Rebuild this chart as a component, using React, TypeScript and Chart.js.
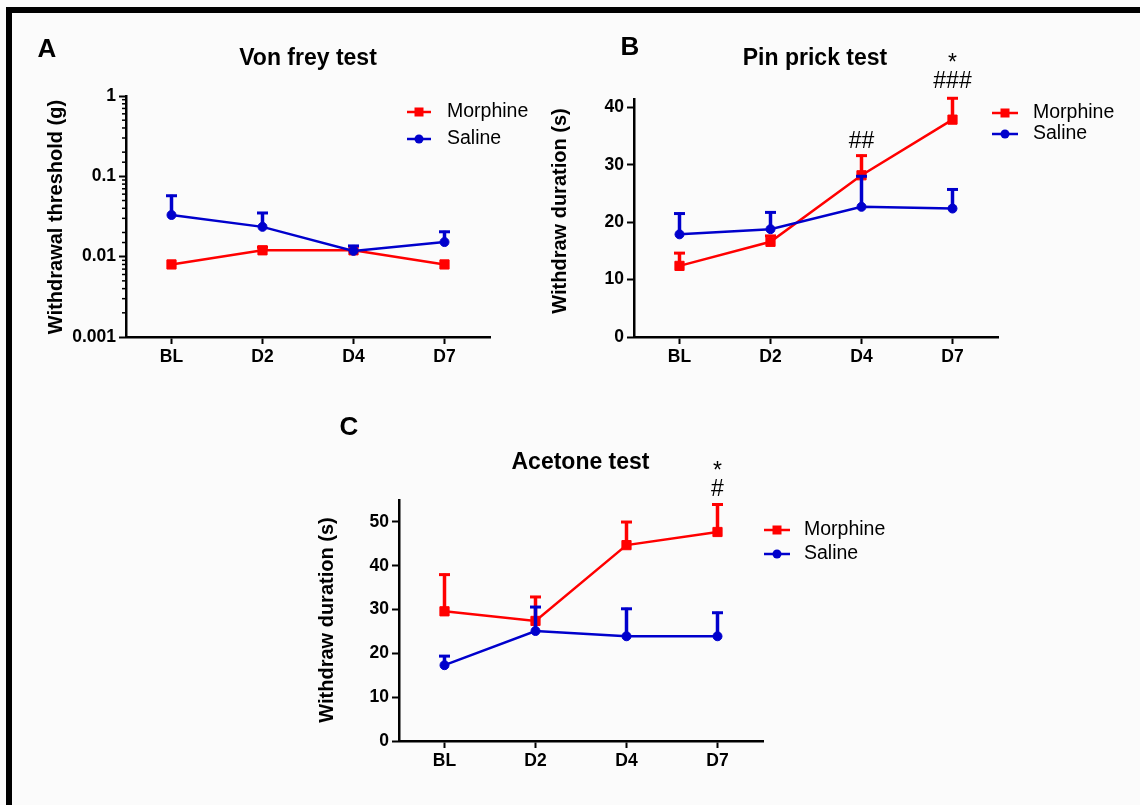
import React, { useEffect, useRef } from 'react';
import { Chart, registerables } from 'chart.js';

Chart.register(...registerables);

// ---------------- DATA ----------------
const categories = ['BL', 'D2', 'D4', 'D7'];
const seriesNames = ['Morphine', 'Saline'];

// A: Von frey test (log scale)
const vonFreyMorphine = [0.008, 0.012, 0.012, 0.008];
const vonFreyMorphineSem = [0, 0.0015, 0, 0];
const vonFreySaline = [0.033, 0.0235, 0.0118, 0.0152];
const vonFreySalineSem = [0.026, 0.0125, 0.0022, 0.0058];
const vonFreyTicks = [0.001, 0.01, 0.1, 1];
const vonFreyTickLabels = ['0.001', '0.01', '0.1', '1'];

// B: Pin prick test
const pinPrickMorphine = [12.4, 16.6, 28.2, 37.9];
const pinPrickMorphineSem = [2.4, 1.2, 3.6, 3.9];
const pinPrickSaline = [17.9, 18.8, 22.7, 22.4];
const pinPrickSalineSem = [3.8, 3.1, 5.5, 3.5];
const pinPrickTicks = [0, 10, 20, 30, 40];
const pinPrickTickLabels = ['0', '10', '20', '30', '40'];

// C: Acetone test
const acetoneMorphine = [29.6, 27.4, 44.7, 47.7];
const acetoneMorphineSem = [8.6, 5.7, 5.5, 6.5];
const acetoneSaline = [17.3, 25.1, 23.9, 23.9];
const acetoneSalineSem = [2.3, 5.7, 6.5, 5.6];
const acetoneTicks = [0, 10, 20, 30, 40, 50];
const acetoneTickLabels = ['0', '10', '20', '30', '40', '50'];

// ---------------- STYLE ----------------
const FONT = '"Liberation Sans", Arial, Helvetica, sans-serif';
const RED = '#FF0000';
const BLUE = '#0000CC';

type Annotation = { text: string; cat: number; y: number };
type Panel = {
  key: string;
  canvas: { left: number; top: number; width: number; height: number };
  area: { left: number; right: number; top: number; bottom: number };
  yType: 'logarithmic' | 'linear';
  yMin: number;
  yMax: number;
  yTicks: number[];
  yTickLabels: string[];
  title: string;
  titlePos: [number, number];
  letter: string;
  letterPos: [number, number];
  yTitle: string;
  yTitlePos: [number, number];
  legend: { x1: number; x2: number; textX: number; ys: number[] };
  annotations: Annotation[];
  morphine: number[];
  morphineSem: number[];
  saline: number[];
  salineSem: number[];
};

const panels: Panel[] = [
  {
    key: 'A',
    canvas: { left: 0, top: 0, width: 540, height: 400 },
    area: { left: 126, right: 490, top: 96, bottom: 337 },
    yType: 'logarithmic',
    yMin: 0.001,
    yMax: 1,
    yTicks: vonFreyTicks,
    yTickLabels: vonFreyTickLabels,
    title: 'Von frey test',
    titlePos: [308, 59],
    letter: 'A',
    letterPos: [47, 50],
    yTitle: 'Withdrawal threshold (g)',
    yTitlePos: [56, 217],
    legend: { x1: 407, x2: 431, textX: 447, ys: [112, 139] },
    annotations: [],
    morphine: vonFreyMorphine,
    morphineSem: vonFreyMorphineSem,
    saline: vonFreySaline,
    salineSem: vonFreySalineSem,
  },
  {
    key: 'B',
    canvas: { left: 540, top: 0, width: 600, height: 400 },
    area: { left: 634, right: 998, top: 99, bottom: 337 },
    yType: 'linear',
    yMin: 0,
    yMax: 41.5,
    yTicks: pinPrickTicks,
    yTickLabels: pinPrickTickLabels,
    title: 'Pin prick test',
    titlePos: [815, 59],
    letter: 'B',
    letterPos: [630, 48],
    yTitle: 'Withdraw duration (s)',
    yTitlePos: [560, 211],
    legend: { x1: 992, x2: 1018, textX: 1033, ys: [113, 134] },
    annotations: [
      { text: '##', cat: 2, y: 142 },
      { text: '###', cat: 3, y: 82 },
      { text: '*', cat: 3, y: 59 },
    ],
    morphine: pinPrickMorphine,
    morphineSem: pinPrickMorphineSem,
    saline: pinPrickSaline,
    salineSem: pinPrickSalineSem,
  },
  {
    key: 'C',
    canvas: { left: 250, top: 400, width: 640, height: 405 },
    area: { left: 399, right: 763, top: 500, bottom: 741 },
    yType: 'linear',
    yMin: 0,
    yMax: 55,
    yTicks: acetoneTicks,
    yTickLabels: acetoneTickLabels,
    title: 'Acetone test',
    titlePos: [580.5, 463],
    letter: 'C',
    letterPos: [349, 428],
    yTitle: 'Withdraw duration (s)',
    yTitlePos: [327, 620],
    legend: { x1: 764, x2: 790, textX: 804, ys: [530, 554] },
    annotations: [
      { text: '*', cat: 3, y: 467 },
      { text: '#', cat: 3, y: 490 },
    ],
    morphine: acetoneMorphine,
    morphineSem: acetoneMorphineSem,
    saline: acetoneSaline,
    salineSem: acetoneSalineSem,
  },
];

const isMajorLog = (v: number) => {
  const l = Math.log10(v);
  return Math.abs(l - Math.round(l)) < 1e-6;
};

function buildChart(canvas: HTMLCanvasElement, p: Panel) {
  const c = p.canvas;
  const a = p.area;
  const yAxisW = 60;
  const xAxisH = 40;
  const padding = {
    left: a.left - c.left - yAxisW,
    right: c.left + c.width - a.right,
    top: a.top - c.top,
    bottom: c.top + c.height - a.bottom - xAxisH,
  };
  const ox = c.left;
  const oy = c.top;
  const tickFont = { family: FONT, size: 17.5, weight: 'bold' as const };
  const isLog = p.yType === 'logarithmic';

  const sems = [p.morphineSem, p.salineSem];
  const means = [p.morphine, p.saline];
  const colors = [RED, BLUE];

  const panelPlugin = {
    id: 'panelDecor' + p.key,
    beforeDatasetDraw(chart: any, args: any) {
      const i = args.index;
      const ctx = chart.ctx;
      const xs = chart.scales.x;
      const ys = chart.scales.y;
      ctx.save();
      ctx.strokeStyle = colors[i];
      ctx.lineCap = 'butt';
      means[i].forEach((m, k) => {
        const s = sems[i][k];
        if (!s) return;
        const x = xs.getPixelForValue(k);
        const y0 = ys.getPixelForValue(m);
        const y1 = ys.getPixelForValue(m + s);
        ctx.lineWidth = 3.5;
        ctx.beginPath();
        ctx.moveTo(x, y0);
        ctx.lineTo(x, y1);
        ctx.stroke();
        ctx.lineWidth = 3;
        ctx.beginPath();
        ctx.moveTo(x - 5.5, y1 + 1);
        ctx.lineTo(x + 5.5, y1 + 1);
        ctx.stroke();
      });
      ctx.restore();
    },
    afterDraw(chart: any) {
      const ctx = chart.ctx;
      const xs = chart.scales.x;
      const ys = chart.scales.y;
      ctx.save();
      // minor log ticks
      if (isLog) {
        ctx.strokeStyle = '#000';
        ctx.lineWidth = 1.5;
        ys.ticks.forEach((t: any) => {
          if (isMajorLog(t.value)) return;
          const y = ys.getPixelForValue(t.value);
          ctx.beginPath();
          ctx.moveTo(chart.chartArea.left - 4, y);
          ctx.lineTo(chart.chartArea.left, y);
          ctx.stroke();
        });
      }
      ctx.fillStyle = '#000';
      // title
      ctx.font = `bold 23px ${FONT}`;
      ctx.textAlign = 'center';
      ctx.textBaseline = 'middle';
      ctx.fillText(p.title, p.titlePos[0] - ox, p.titlePos[1] - oy);
      // letter
      ctx.font = `bold 26px ${FONT}`;
      ctx.fillText(p.letter, p.letterPos[0] - ox, p.letterPos[1] - oy);
      // y axis title
      ctx.save();
      ctx.translate(p.yTitlePos[0] - ox, p.yTitlePos[1] - oy);
      ctx.rotate(-Math.PI / 2);
      ctx.font = `bold 20px ${FONT}`;
      ctx.fillText(p.yTitle, 0, 0);
      ctx.restore();
      // annotations
      ctx.font = `23px ${FONT}`;
      p.annotations.forEach((an) => {
        const x = xs.getPixelForValue(an.cat);
        const dy = an.text === '*' ? 5 : 0;
        ctx.fillText(an.text, x, an.y - oy + dy);
      });
      // legend
      const lg = p.legend;
      seriesNames.forEach((name, i) => {
        const y = lg.ys[i] - oy;
        const x1 = lg.x1 - ox;
        const x2 = lg.x2 - ox;
        ctx.strokeStyle = colors[i];
        ctx.fillStyle = colors[i];
        ctx.lineWidth = 2.5;
        ctx.beginPath();
        ctx.moveTo(x1, y);
        ctx.lineTo(x2, y);
        ctx.stroke();
        const cx = (x1 + x2) / 2;
        if (i === 0) {
          ctx.fillRect(cx - 4.5, y - 4.5, 9, 9);
        } else {
          ctx.beginPath();
          ctx.arc(cx, y, 4.5, 0, Math.PI * 2);
          ctx.fill();
        }
        ctx.fillStyle = '#000';
        ctx.font = `19.5px ${FONT}`;
        ctx.textAlign = 'left';
        ctx.textBaseline = 'middle';
        ctx.fillText(name, lg.textX - ox, y);
      });
      ctx.restore();
    },
  };

  return new Chart(canvas, {
    type: 'line',
    data: {
      labels: categories,
      datasets: [
        {
          label: seriesNames[0],
          data: p.morphine,
          borderColor: RED,
          backgroundColor: RED,
          pointBackgroundColor: RED,
          pointBorderColor: RED,
          pointStyle: 'rect',
          pointRadius: 6.5,
          pointBorderWidth: 1,
          borderWidth: 2.5,
          tension: 0,
          order: 1,
        },
        {
          label: seriesNames[1],
          data: p.saline,
          borderColor: BLUE,
          backgroundColor: BLUE,
          pointBackgroundColor: BLUE,
          pointBorderColor: BLUE,
          pointStyle: 'circle',
          pointRadius: 4.5,
          pointBorderWidth: 1,
          borderWidth: 2.5,
          tension: 0,
          order: 0,
        },
      ],
    },
    options: {
      animation: false,
      responsive: false,
      maintainAspectRatio: false,
      devicePixelRatio: 1,
      events: [],
      layout: { padding, autoPadding: false },
      plugins: {
        legend: { display: false },
        tooltip: { enabled: false },
        title: { display: false },
      },
      scales: {
        x: {
          type: 'category',
          offset: true,
          grid: {
            display: true,
            drawOnChartArea: false,
            drawTicks: true,
            tickLength: 7,
            tickWidth: 2,
            tickColor: '#000',
            offset: false,
          },
          border: { display: true, color: '#000', width: 2.5 },
          ticks: { font: tickFont, color: '#000', padding: 3, maxRotation: 0, autoSkip: false },
          afterFit: (s: any) => {
            s.height = xAxisH;
          },
        },
        y: {
          type: p.yType,
          min: p.yMin,
          max: p.yMax,
          grid: {
            display: true,
            drawOnChartArea: false,
            drawTicks: true,
            tickLength: 7,
            tickWidth: 2,
            tickColor: (ctx: any) =>
              !isLog || (ctx.tick && isMajorLog(ctx.tick.value)) ? '#000' : 'rgba(0,0,0,0)',
          },
          border: { display: true, color: '#000', width: 2.5 },
          ticks: {
            font: tickFont,
            color: '#000',
            padding: 3,
            autoSkip: false,
            callback: (v: any) => {
              const val = Number(v);
              const idx = p.yTicks.findIndex((t) => Math.abs(t - val) <= Math.abs(t) * 1e-6 + 1e-12);
              return idx >= 0 ? p.yTickLabels[idx] : '';
            },
          },
          afterBuildTicks: (s: any) => {
            if (!isLog) s.ticks = p.yTicks.map((v) => ({ value: v }));
          },
          afterFit: (s: any) => {
            s.width = yAxisW;
          },
        },
      },
    } as any,
    plugins: [panelPlugin],
  } as any);
}

function PanelChart({ p }: { p: Panel }) {
  const ref = useRef<HTMLCanvasElement | null>(null);
  useEffect(() => {
    if (!ref.current) return;
    const chart = buildChart(ref.current, p);
    return () => chart.destroy();
  }, [p]);
  return (
    <canvas
      ref={ref}
      width={p.canvas.width}
      height={p.canvas.height}
      style={{
        position: 'absolute',
        left: p.canvas.left,
        top: p.canvas.top,
        width: p.canvas.width,
        height: p.canvas.height,
      }}
    />
  );
}

export default function App() {
  return (
    <div
      style={{
        position: 'fixed',
        left: 0,
        top: 0,
        width: 1140,
        height: 805,
        background: '#fbfbfb',
        overflow: 'hidden',
      }}
    >
      <div
        style={{
          position: 'absolute',
          left: 6,
          top: 7,
          width: 1200,
          height: 900,
          borderTop: '6px solid #000',
          borderLeft: '6px solid #000',
        }}
      />
      {panels.map((p) => (
        <PanelChart key={p.key} p={p} />
      ))}
    </div>
  );
}
